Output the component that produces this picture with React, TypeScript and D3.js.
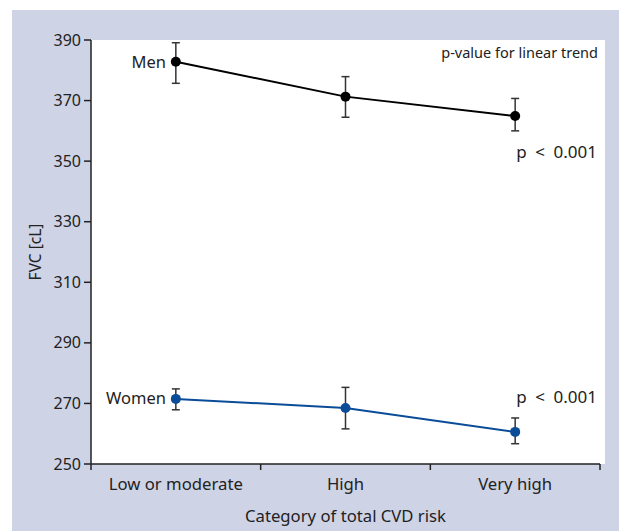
import React from "react";
import * as d3 from "d3";

const categories = ["Low or moderate", "High", "Very high"];
const menMean = [382.8, 371.3, 364.9];
const menLow = [375.7, 364.5, 360.0];
const menHigh = [389.1, 377.9, 370.7];
const womenMean = [271.5, 268.5, 260.6];
const womenLow = [267.9, 261.6, 256.7];
const womenHigh = [274.8, 275.3, 265.2];
const yTicks = [250, 270, 290, 310, 330, 350, 370, 390];

const W = 619;
const H = 531;
const FONT = "'Noto Sans', sans-serif";

export default function App() {
  const left = 91;
  const right = 600;
  const top = 40;
  const bottom = 464;
  const x = d3.scaleBand<string>().domain(categories).range([left, right]);
  const y = d3.scaleLinear().domain([250, 390]).range([bottom, top]);
  const cx = (c: string) => (x(c) as number) + x.bandwidth() / 2;
  const line = d3
    .line<number>()
    .x((_, i) => cx(categories[i]))
    .y((d) => y(d));

  const series = [
    { mean: menMean, lo: menLow, hi: menHigh, color: "#000000" },
    { mean: womenMean, lo: womenLow, hi: womenHigh, color: "#0a4c98" },
  ];
  const xBoundaries = [...categories.map((c) => x(c) as number), right];

  return (
    <div style={{ position: "absolute", left: 0, top: 0, margin: 0 }}>
      <svg width={W} height={H} style={{ display: "block" }}>
        <rect x={12} y={10} width={W - 12} height={H - 10} fill="#cfd3e6" />
        <rect x={left} y={top} width={605 - left} height={bottom - top} fill="#ffffff" />
        {/* y axis */}
        <line x1={left} x2={left} y1={top} y2={bottom} stroke="#222" strokeWidth={1.5} />
        {yTicks.map((t) => (
          <g key={t}>
            <line x1={left - 7} x2={left} y1={y(t)} y2={y(t)} stroke="#222" strokeWidth={1.5} />
            <text x={left - 10} y={y(t)} dy="0.35em" textAnchor="end" fontFamily={FONT} fontSize={16} fill="#222">
              {t}
            </text>
          </g>
        ))}
        {/* x axis */}
        <line x1={left} x2={right} y1={bottom} y2={bottom} stroke="#222" strokeWidth={1.5} />
        {xBoundaries.map((b, i) => (
          <line key={i} x1={b} x2={b} y1={bottom} y2={bottom + 6} stroke="#222" strokeWidth={1.5} />
        ))}
        {categories.map((c) => (
          <text key={c} x={cx(c)} y={490} textAnchor="middle" fontFamily={FONT} fontSize={16.7} fill="#222">
            {c}
          </text>
        ))}
        <text x={(left + right) / 2} y={522} textAnchor="middle" fontFamily={FONT} fontSize={16.7} fill="#222">
          Category of total CVD risk
        </text>
        <text
          transform={`translate(41,${(top + bottom) / 2}) rotate(-90)`}
          textAnchor="middle"
          fontFamily={FONT}
          fontSize={15.5}
          fill="#222"
        >
          FVC [cL]
        </text>
        {/* series */}
        {series.map((s, si) => (
          <g key={si}>
            <path d={line(s.mean) || ""} fill="none" stroke={s.color} strokeWidth={2} />
            {s.mean.map((m, i) => {
              const px = cx(categories[i]);
              return (
                <g key={i}>
                  <line x1={px} x2={px} y1={y(s.lo[i])} y2={y(s.hi[i])} stroke="#333" strokeWidth={1.5} />
                  <line x1={px - 4} x2={px + 4} y1={y(s.lo[i])} y2={y(s.lo[i])} stroke="#333" strokeWidth={1.5} />
                  <line x1={px - 4} x2={px + 4} y1={y(s.hi[i])} y2={y(s.hi[i])} stroke="#333" strokeWidth={1.5} />
                  <circle cx={px} cy={y(m)} r={5} fill={s.color} />
                </g>
              );
            })}
          </g>
        ))}
        <text x={166} y={y(menMean[0])} dy="0.35em" textAnchor="end" fontFamily={FONT} fontSize={16.5} fill="#222">
          Men
        </text>
        <text x={166} y={y(womenMean[0])} dy="0.3em" textAnchor="end" fontFamily={FONT} fontSize={16.5} fill="#222">
          Women
        </text>
        <text x={598} y={58} textAnchor="end" fontFamily={FONT} fontSize={14.5} fill="#222">
          p-value for linear trend
        </text>
        <text x={597} y={158} textAnchor="end" fontFamily={FONT} fontSize={17} fill="#222">
          {"p\u2002<\u20020.001"}
        </text>
        <text x={597} y={403} textAnchor="end" fontFamily={FONT} fontSize={17} fill="#222">
          {"p\u2002<\u20020.001"}
        </text>
      </svg>
    </div>
  );
}
